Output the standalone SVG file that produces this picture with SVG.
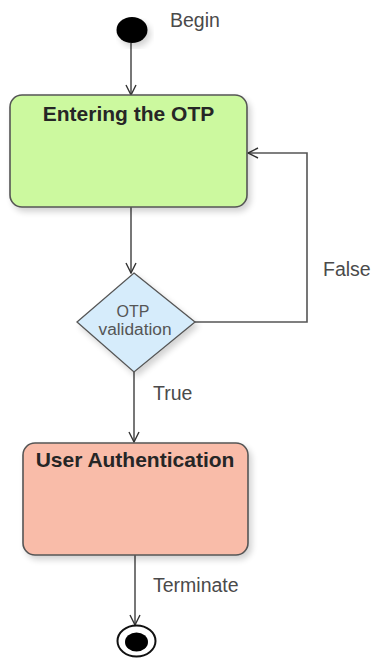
<svg xmlns="http://www.w3.org/2000/svg" width="377" height="658" viewBox="0 0 377 658">
<style>
.lbl{font-family:"Liberation Sans",Arial,sans-serif;font-size:19.5px;fill:#4a4a4a}
.title{font-family:"Liberation Sans",Arial,sans-serif;font-size:21px;font-weight:bold;fill:#262626;text-anchor:middle}
.dtext{font-family:"Liberation Sans",Arial,sans-serif;font-size:16px;fill:#555;text-anchor:middle}
.edge{fill:none;stroke:#555;stroke-width:1.6}
</style>
<defs>
<marker id="arr" viewBox="0 0 12 12" refX="11" refY="6" markerWidth="12" markerHeight="12" markerUnits="userSpaceOnUse" orient="auto">
<path d="M1,1 L11,6 L1,11" fill="none" stroke="#333" stroke-width="1.4"/>
</marker>
<filter id="sh" x="-10%" y="-10%" width="130%" height="130%">
<feGaussianBlur in="SourceAlpha" stdDeviation="3"/>
<feOffset dx="3" dy="4"/>
<feComponentTransfer><feFuncA type="linear" slope="0.18"/></feComponentTransfer>
<feMerge><feMergeNode/><feMergeNode in="SourceGraphic"/></feMerge>
</filter>
</defs>
<g id="connectors">
<path class="edge" d="M131,43 L131,95" marker-end="url(#arr)"/>
<path class="edge" d="M131,207 L131,273" marker-end="url(#arr)"/>
<path class="edge" d="M195,322 L307,322 L307,153 L248,153" marker-end="url(#arr)"/>
<path class="edge" d="M134,372 L134,442" marker-end="url(#arr)"/>
<path class="edge" d="M135,555 L135,625" marker-end="url(#arr)"/>
<text class="lbl" x="323" y="276">False</text>
<text class="lbl" x="153" y="400">True</text>
<text class="lbl" x="153" y="592">Terminate</text>
</g>
<g id="start">
<ellipse cx="132" cy="30" rx="15.5" ry="13" fill="#000" filter="url(#sh)"/>
<text class="lbl" x="170" y="27">Begin</text>
</g>
<g id="entering">
<rect x="10" y="95" width="237" height="112" rx="12" fill="#ccf99f" stroke="#555" stroke-width="1.6" filter="url(#sh)"/>
<text class="title" x="128.5" y="121">Entering the OTP</text>
</g>
<g id="validation">
<polygon points="134,273 195,322 134,372 77,322" fill="#d6ecfb" stroke="#555" stroke-width="1.3" filter="url(#sh)"/>
<text class="dtext" x="133" y="317">OTP</text>
<text class="dtext" x="135" y="335" textLength="73" lengthAdjust="spacingAndGlyphs">validation</text>
</g>
<g id="auth">
<rect x="23" y="443" width="225" height="112" rx="12" fill="#f9bca9" stroke="#555" stroke-width="1.6" filter="url(#sh)"/>
<text class="title" x="135" y="467">User Authentication</text>
</g>
<g id="end">
<ellipse cx="136.5" cy="641" rx="19" ry="15.5" fill="#fff" stroke="#111" stroke-width="2"/>
<ellipse cx="136.5" cy="642" rx="11.5" ry="9.5" fill="#000"/>
</g>
</svg>
